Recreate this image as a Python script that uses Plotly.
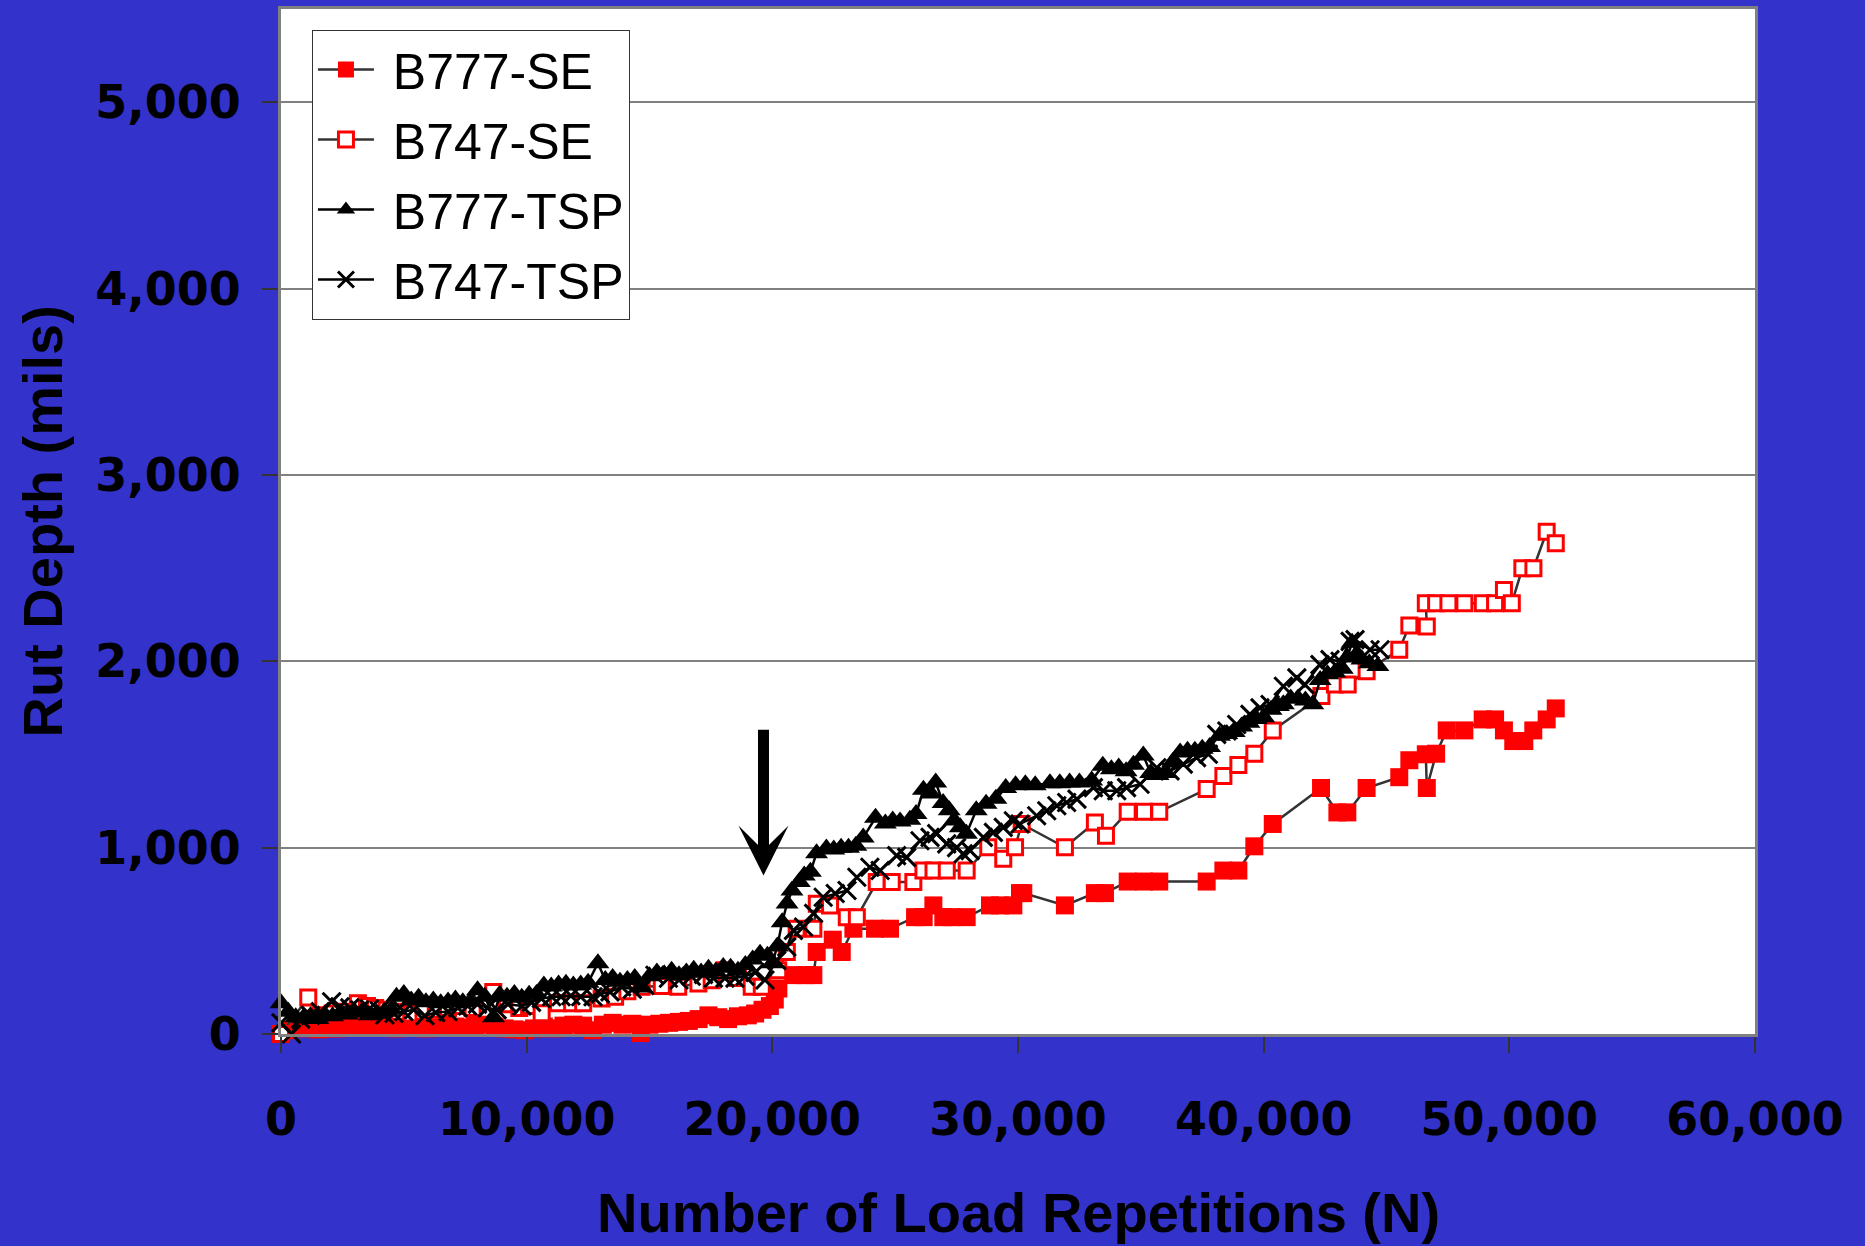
import plotly.graph_objects as go

# ---------------- data ----------------
B777_SE_X = [0, 300, 700, 1100, 1500, 1900, 2300, 2700, 3100, 3500, 3900, 4300, 4700, 5100, 5500, 5900,
             6300, 6700, 7100, 7500, 7900, 8300, 8700, 9100, 9500, 9900, 10300, 10700, 11100, 11500, 11900,
             12300, 12700, 13100, 13500, 13900, 14300, 14650, 15000, 15400, 15800, 16200, 16600, 17000,
             17400, 17800, 18200, 18600, 19000, 19300, 19600, 19900,
             20100, 20245, 20855, 21330, 21670, 21805, 22460, 22825, 23300, 24180,
             24790, 25810, 26160, 26555, 26960, 27300, 27910, 28860, 29270, 29810,
             30080, 30215, 31910, 33130, 33540, 34465, 35130, 35750, 37680, 38360,
             38970, 39620, 40370, 42335, 43000, 43405, 44190, 45520, 45930, 46600,
             46640, 47020, 47450, 48170, 48915, 49420, 49780, 50160, 50610, 50975,
             51520, 51890]
B777_SE_Y = [0, 20, 30, 35, 25, 30, 30, 40, 35, 45, 40, 35, 30, 35, 40, 30,
             35, 45, 40, 35, 45, 50, 40, 30, 25, 20, 30, 40, 30, 45, 50,
             45, 20, 50, 60, 50, 55, 5, 50, 55, 60, 65, 70, 80,
             100, 90, 80, 95, 100, 110, 130, 150,
             185, 244, 316, 316, 316, 440, 506, 440, 565, 565,
             565, 627, 627, 690, 627, 627, 627, 690, 690, 690,
             756, 756, 690, 756, 756, 818, 818, 818, 818, 877,
             877, 1007, 1127, 1320, 1189, 1189, 1320, 1378, 1469, 1501,
             1320, 1504, 1629, 1629, 1688, 1688, 1629, 1572, 1572, 1629,
             1688, 1747]

B747_SE_X = [0, 1110, 1600, 2100, 2600, 3130, 3500, 3830, 4300, 4800,
             5300, 5800, 6300, 6800, 7300, 7800, 8640, 9200, 9700, 10100,
             10610, 11280, 11850, 12300, 13050, 13600, 14100, 14680, 15500, 16170,
             16990, 17530, 18070, 18600, 19160, 19570, 20240,
             20590, 20990, 21670,
             21810, 22350, 23030, 23440, 24250, 24860, 25740, 26150, 26560, 27100,
             27910, 28790, 29400, 29880, 30150, 31910, 33130, 33580, 34465, 35130,
             35750, 37680, 38360, 38970, 39620, 40370, 42350, 42900, 43420, 44190,
             45520, 45930, 46640, 46600, 47020, 47520, 48170, 48920, 49420, 49780,
             50100, 50530, 50980, 51520, 51890]
B747_SE_Y = [0, 196, 100, 110, 120, 165, 150, 140, 130, 120,
             110, 120, 130, 140, 150, 140, 226, 160, 140, 150,
             111, 165, 165, 165, 191, 200, 230, 253, 258, 253,
             271, 289, 342, 300, 253, 253, 342,
             440, 565, 565,
             699, 690, 627, 627, 815, 815, 815, 877, 877, 877,
             877, 1002, 940, 1002, 1127, 1002, 1135, 1064, 1192, 1192,
             1192, 1314, 1385, 1444, 1504, 1629, 1813, 1875, 1875, 1947,
             2062, 2192, 2187, 2312, 2312, 2312, 2312, 2312, 2312, 2383,
             2312, 2499, 2499, 2695, 2633]

B777_TSP_X = [0, 300, 600, 900, 1200, 1500, 1800, 2100, 2400, 2700, 3000, 3300, 3600, 3900, 4200, 4500,
              4700, 5000, 5300, 5600, 5900, 6200, 6500, 6800, 7100, 7400, 7700, 8000, 8300,
              8650, 8900, 9200, 9500, 9800, 10100, 10400, 10700, 11000, 11300, 11600, 11900, 12200, 12500,
              12900, 13200, 13500, 13800, 14100, 14400, 14700, 15000, 15300, 15600, 15900, 16200, 16500,
              16800, 17100, 17400, 17700, 18000, 18300, 18600, 18900, 19200, 19500, 19800,
              20000, 20200, 20400, 20600, 20800, 21100, 21300, 21550, 21800,
              22200, 22500, 22800, 23100, 23400, 23700, 24200, 24600, 24900, 25200, 25600, 25850,
              26150, 26450, 26650, 26950, 27200, 27400, 27650, 27900,
              28300, 28700, 29100, 29500, 29900, 30300, 30700, 31300, 31700, 32100, 32500, 33000,
              33450, 33800, 34100, 34400, 34700, 35100, 35400, 35700, 36000, 36300, 36600, 36900,
              37200, 37500, 37800, 38200, 38500, 38800, 39100, 39400, 39700, 40000, 40300, 40600,
              40800, 41100, 41400, 41700, 42000, 42300, 42600, 42900, 43200, 43400, 43600,
              43800, 44000, 44300, 44650]
B777_TSP_Y = [165, 120, 90, 85, 95, 80, 100, 95, 110, 105, 115, 120, 100, 110, 120, 130,
              200, 215, 180, 195, 170, 180, 165, 175, 185, 170, 175, 235, 200,
              90, 210, 200, 215, 195, 210, 215, 260, 255, 265, 270, 260, 265, 275,
              380, 290, 300, 280, 290, 300, 250, 310, 330, 320, 340, 315, 330,
              345, 330, 350, 335, 360, 355, 340, 370, 400, 430, 420,
              380, 470, 600, 700, 770, 815, 850, 870, 970,
              995, 990, 1000, 1000, 1010, 1055, 1160, 1130, 1145, 1140, 1150, 1180,
              1310, 1290, 1350, 1240, 1200, 1145, 1110, 1075,
              1200, 1235, 1262, 1320, 1335, 1340, 1335, 1345, 1345, 1350, 1350, 1360,
              1440, 1420, 1430, 1410, 1445, 1495, 1400, 1390, 1400, 1460, 1510, 1520,
              1520, 1530, 1540, 1600, 1610, 1620, 1650, 1670, 1690, 1700, 1740, 1760,
              1770, 1800, 1800, 1790, 1770, 1900, 1930, 1940, 1960, 2020, 2100,
              2040, 2010, 1990, 1975]

B747_TSP_X = [0, 430, 800, 1200, 1600, 2060, 2400, 2800, 3200, 3600,
              4000, 4230, 4600, 5000, 5400, 5860, 6300, 6800, 7200, 7600,
              8000, 8400, 8800, 9240, 9810, 10200, 10600, 11020, 11400, 11800,
              12200, 12700, 13000, 13390, 13870, 14300, 14800, 15220, 15770, 16200,
              16700, 17200, 17600, 18070, 18480, 18890, 19300, 19700,
              20180, 20590, 20860, 21270, 21680, 22070, 22560, 23040, 23440, 23970,
              24390, 25060, 25470, 26010, 26420, 26690, 27100, 27500, 27770, 28050,
              28590, 29000, 29400, 29810, 30080, 30760, 31170, 31580, 31980, 32400,
              33070, 33470, 34020, 34420, 34970, 35650, 36190, 36730, 37270, 37750,
              38090, 38500, 38900, 39440, 39850, 40260, 40800, 41350, 41680, 42290,
              42700, 43110, 43520, 43720, 44330, 44740]
B747_TSP_Y = [60, 0, 80, 100, 120, 173, 146, 140, 130, 135,
              125, 102, 110, 120, 130, 98, 115, 120, 140, 150,
              160, 140, 130, 160, 150, 170, 190, 200, 200, 205,
              200, 200, 215, 226, 253, 240, 260, 315, 299, 290,
              310, 320, 300, 300, 300, 310, 330, 290,
              395, 467, 556, 574, 647, 734, 754, 770, 841, 895,
              877, 957, 948, 1037, 1055, 1075, 1020, 1000, 967, 984,
              1055, 1082, 1109, 1144, 1127, 1171, 1198, 1225, 1242, 1260,
              1322, 1305, 1305, 1322, 1340, 1429, 1412, 1448, 1483, 1501,
              1608, 1626, 1661, 1715, 1750, 1768, 1866, 1911, 1875, 1982,
              2009, 2000, 2107, 2116, 2062, 2062]

SERIES_NAMES = ["B777-SE", "B747-SE", "B777-TSP", "B747-TSP"]

# arrow marking the change point (data units)
ARROW_X = 19640
ARROW_TAIL_Y = 1640
ARROW_TIP_Y = 850

X_TICKS = [0, 10000, 20000, 30000, 40000, 50000, 60000]
Y_TICKS = [0, 1000, 2000, 3000, 4000, 5000]

BLUE = "#3333CC"
TICK_FONT = dict(family="DejaVu Sans", size=46, color="black", weight="bold")
TITLE_FONT = dict(family="Liberation Sans", size=56, color="black", weight="bold")

fig = go.Figure()

fig.add_trace(go.Scatter(
    x=B777_SE_X, y=B777_SE_Y, name=" " + SERIES_NAMES[0], legendgroup="g1",
    mode="lines+markers", cliponaxis=False,
    line=dict(color="#333333", width=2.5),
    marker=dict(symbol="square", size=18, color="#FF0000", line=dict(width=0)),
))
fig.add_trace(go.Scatter(
    x=B747_SE_X, y=B747_SE_Y, name=" " + SERIES_NAMES[1], legendgroup="g2",
    mode="lines+markers", cliponaxis=False,
    line=dict(color="#333333", width=2.5),
    marker=dict(symbol="square", size=15, color="white", line=dict(color="#FF0000", width=3)),
))
fig.add_trace(go.Scatter(
    x=B777_TSP_X, y=B777_TSP_Y, name=" " + SERIES_NAMES[2], legendgroup="g3",
    mode="lines+markers", cliponaxis=False,
    line=dict(color="#000000", width=2.5),
    marker=dict(symbol="triangle-up", size=20, color="#000000", line=dict(width=0)),
))
fig.add_trace(go.Scatter(
    x=B747_TSP_X, y=B747_TSP_Y, name=" " + SERIES_NAMES[3], legendgroup="g4",
    mode="lines+markers", cliponaxis=False,
    line=dict(color="#000000", width=2.5),
    marker=dict(symbol="x-thin", size=18, color="#000000", line=dict(color="#000000", width=3)),
))

fig.update_layout(
    width=1865, height=1246, autosize=False,
    paper_bgcolor=BLUE, plot_bgcolor="white",
    margin=dict(l=281, r=110, t=6, b=212),
    showlegend=True,
    legend=dict(
        x=0.021, y=0.980, xanchor="left", yanchor="top",
        bgcolor="white", bordercolor="#333333", borderwidth=1,
        font=dict(family="Liberation Sans", size=50, color="black"),
        tracegroupgap=2, itemwidth=56,
    ),
    xaxis=dict(
        range=[0, 60000], tickvals=X_TICKS, tickformat=",d",
        showgrid=False, zeroline=False,
        ticks="outside", ticklen=16, tickwidth=2, tickcolor="#333333",
        showline=True, linecolor="#808080", linewidth=3, mirror=True,
        tickfont=TICK_FONT, ticklabelstandoff=27,
    ),
    yaxis=dict(
        range=[0, 5500], tickvals=Y_TICKS, tickformat=",d",
        showgrid=True, gridcolor="#808080", gridwidth=2, zeroline=False,
        ticks="outside", ticklen=16, tickwidth=2, tickcolor="#333333",
        showline=True, linecolor="#808080", linewidth=3, mirror=True,
        tickfont=TICK_FONT, ticklabelstandoff=12,
    ),
    annotations=[
        dict(text="Rut Depth (mils)", textangle=-90, xref="paper", yref="paper",
             x=-0.1621, y=0.5, xanchor="center", yanchor="middle",
             showarrow=False, font=TITLE_FONT),
        dict(text="Number of Load Repetitions (N)", xref="paper", yref="paper",
             x=0.5, y=-0.1741, xanchor="center", yanchor="middle",
             showarrow=False, font=TITLE_FONT),
        dict(text="", x=ARROW_X, y=ARROW_TIP_Y, ax=ARROW_X, ay=ARROW_TAIL_Y,
             xref="x", yref="y", axref="x", ayref="y",
             showarrow=True, arrowhead=3, arrowwidth=11, arrowsize=0.76,
             arrowcolor="black", standoff=0, startstandoff=0),
    ],
)

fig.write_html("out.html", config={"displayModeBar": False},
               post_script="document.body.style.margin='0';")
